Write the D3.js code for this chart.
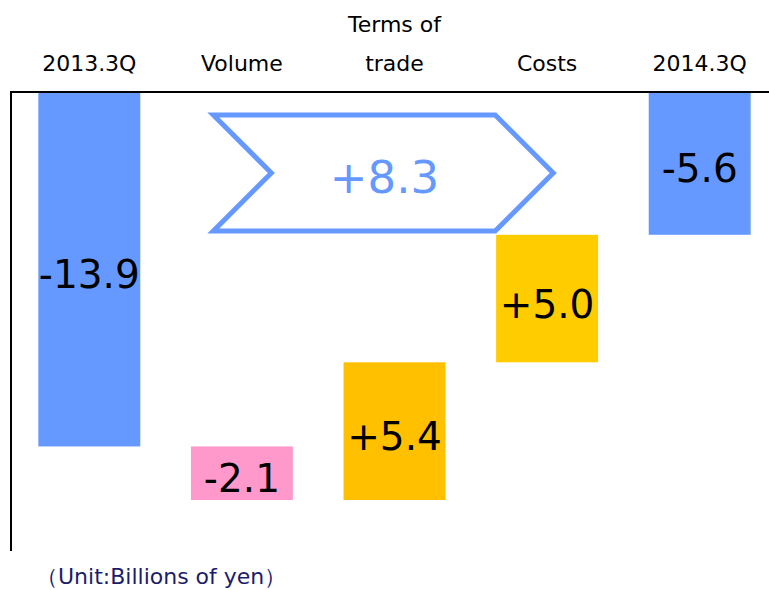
<!DOCTYPE html>
<html>
<head>
<meta charset="utf-8">
<script src="https://cdn.jsdelivr.net/npm/d3@7"></script>
<style>
    body { margin: 0; background: #fff; }
    svg { display: block; font-family: "DejaVu Sans", Verdana, sans-serif; }
</style>
</head>
<body>
<div id="chart"></div>
<script>
const CATEGORIES = ['2013.3Q', 'Volume', 'Terms of trade', 'Costs', '2014.3Q'];
const CATEGORY_LINES = [['2013.3Q'], ['Volume'], ['Terms of', 'trade'], ['Costs'], ['2014.3Q']];
const VALUES = [-13.9, -2.1, 5.4, 5.0, -5.6];
const IS_TOTAL = [true, false, false, false, true];
const VALUE_LABELS = ['-13.9', '-2.1', '+5.4', '+5.0', '-5.6'];
const COLORS = ['#6699ff', '#ff99cc', '#ffc000', '#ffcc00', '#6699ff'];
const UNIT_TEXT = '（Unit:Billions of yen）';

const W = 769, H = 590;

let svg = d3.select('#chart')
    .append('svg')
    .attr('width', W)
    .attr('height', H);

// Scales
let x = d3.scaleBand()
    .domain(CATEGORIES)
    .range([13, 776])
    .paddingInner(0.332)
    .paddingOuter(0.166);

let y = d3.scaleLinear()
    .domain([0, -18])
    .range([92, 551]);

// Waterfall start/end
let running = 0;
let bars = CATEGORIES.map(function (c, i) {
    let start, end;
    if (IS_TOTAL[i]) {
        start = 0;
        end = VALUES[i];
        running = VALUES[i];
    } else {
        start = running;
        end = running + VALUES[i];
        running = end;
    }
    return {cat: c, start: start, end: end, label: VALUE_LABELS[i], color: COLORS[i]};
});

// Bars
svg.append('g')
    .selectAll('rect')
    .data(bars)
    .join('rect')
    .attr('x', d => x(d.cat))
    .attr('width', x.bandwidth())
    .attr('y', d => y(Math.max(d.start, d.end)))
    .attr('height', d => Math.abs(y(d.start) - y(d.end)))
    .attr('fill', d => d.color);

// Value labels
svg.append('g')
    .selectAll('text')
    .data(bars)
    .join('text')
    .attr('x', d => x(d.cat) + x.bandwidth() / 2)
    .attr('y', d => (y(d.start) + y(d.end)) / 2 + 19)
    .attr('text-anchor', 'middle')
    .attr('font-size', 39)
    .attr('fill', '#000')
    .text(d => d.label);

// Axes lines (top and left)
svg.append('line')
    .attr('x1', 10).attr('x2', W)
    .attr('y1', y(0)).attr('y2', y(0))
    .attr('stroke', '#000').attr('stroke-width', 2);
svg.append('line')
    .attr('x1', 11).attr('x2', 11)
    .attr('y1', y(0) - 1).attr('y2', y(-18))
    .attr('stroke', '#000').attr('stroke-width', 2);

// Category labels on top
let catG = svg.append('g');
CATEGORIES.forEach(function (c, i) {
    let lines = CATEGORY_LINES[i];
    let t = catG.append('text')
        .attr('x', x(c) + x.bandwidth() / 2)
        .attr('text-anchor', 'middle')
        .attr('font-size', 22)
        .attr('fill', '#000');
    lines.forEach(function (l, j) {
        t.append('tspan')
            .attr('x', x(c) + x.bandwidth() / 2)
            .attr('y', 71 - (lines.length - 1 - j) * 39)
            .text(l);
    });
});

// Change arrow spanning the deltas
let deltaSum = d3.sum(VALUES.filter((v, i) => !IS_TOTAL[i]));
let ax0 = x('Volume') + x.bandwidth() * 0.22;
let ax1 = x('Costs') + x.bandwidth() * 0.56;
let ay0 = y(-0.9), ay1 = y(-5.45);
let notch = 58;
let aMid = (ay0 + ay1) / 2;
let arrowPts = [
    [ax0, ay0], [ax1 - notch, ay0], [ax1, aMid],
    [ax1 - notch, ay1], [ax0, ay1], [ax0 + notch, aMid]
];
svg.append('path')
    .attr('d', d3.line()(arrowPts) + 'Z')
    .attr('fill', '#fff')
    .attr('stroke', '#6699ff')
    .attr('stroke-width', 5)
    .attr('stroke-linejoin', 'miter');
svg.append('text')
    .attr('x', (x('Terms of trade') + x.bandwidth() / 2) - 10)
    .attr('y', aMid + 20)
    .attr('text-anchor', 'middle')
    .attr('font-size', 45)
    .attr('fill', '#6699ff')
    .text((deltaSum > 0 ? '+' : '') + deltaSum.toFixed(1));

// Unit note
svg.append('text')
    .attr('x', 36)
    .attr('y', 584)
    .attr('font-size', 22)
    .attr('fill', '#1c1c6b')
    .text(UNIT_TEXT);
</script>
</body>
</html>
